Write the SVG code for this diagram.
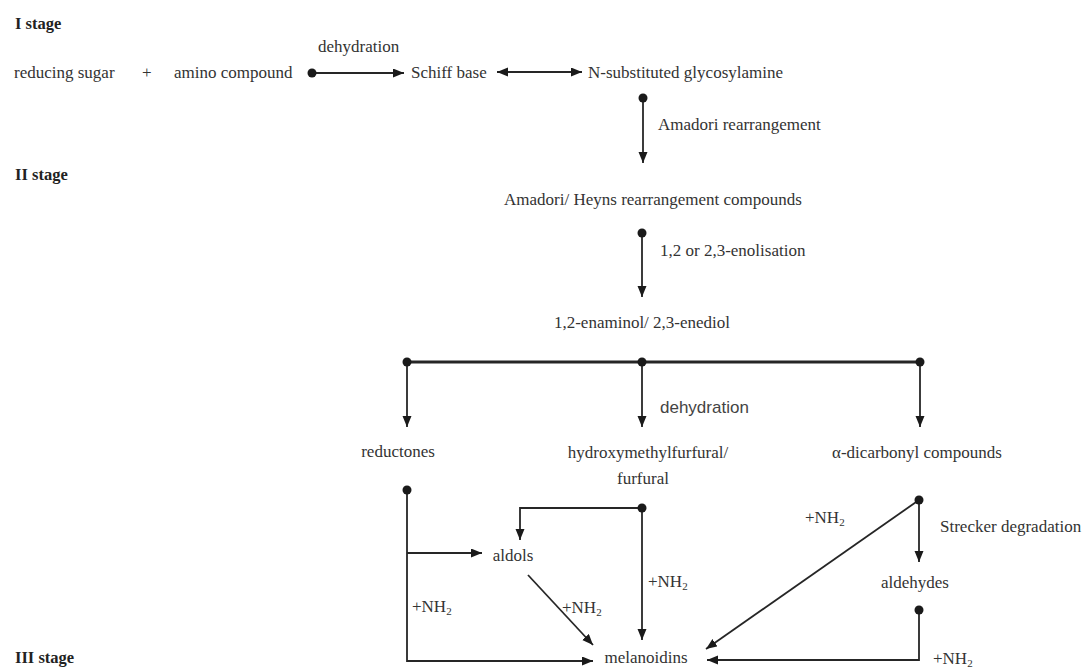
<svg xmlns="http://www.w3.org/2000/svg" width="1088" height="669" viewBox="0 0 1088 669">
<style>
text{font-family:"Liberation Serif","Times New Roman",serif;font-size:17px;fill:#333}
.st{font-weight:bold;font-size:16.5px;fill:#222}
.sans{font-family:"Liberation Sans",Arial,sans-serif;font-size:17px;fill:#444}
.c{text-anchor:middle}
.ln{stroke:#262626;stroke-width:1.8;fill:none}
.bar{stroke:#262626;stroke-width:3;fill:none}
.ar{marker-end:url(#ah)}
.dt{fill:#1a1a1a}
.sub{font-size:11px}
</style>
<defs>
<marker id="ah" markerUnits="userSpaceOnUse" markerWidth="12" markerHeight="10" refX="11" refY="4.5" orient="auto-start-reverse" viewBox="0 0 12 10">
<path d="M0,0 L11,4.5 L0,9 z" fill="#1a1a1a"/>
</marker>
</defs>
<rect width="1088" height="669" fill="#fff"/>
<g id="stages">
<text class="st" x="15" y="29">I stage</text>
<text class="st" x="15" y="180">II stage</text>
<text class="st" x="15" y="663">III stage</text>
</g>
<g id="connectors">
<line class="ln ar" x1="312" y1="73" x2="404" y2="73"/>
<line class="ln ar" x1="497" y1="72" x2="582" y2="72" style="marker-start:url(#ah)"/>
<line class="ln ar" x1="643" y1="98" x2="643" y2="163"/>
<line class="ln ar" x1="642" y1="233" x2="642" y2="297"/>
<line class="bar" x1="407" y1="362" x2="920" y2="362"/>
<line class="ln ar" x1="407" y1="362" x2="407" y2="427"/>
<line class="ln ar" x1="642" y1="362" x2="642" y2="427"/>
<line class="ln ar" x1="920" y1="362" x2="920" y2="427"/>
<polyline class="ln ar" points="407,490 407,661 593,661"/>
<line class="ln ar" x1="407" y1="553" x2="482" y2="553"/>
<polyline class="ln ar" points="642,508 520,508 520,540"/>
<line class="ln ar" x1="642" y1="508" x2="642" y2="640"/>
<line class="ln ar" x1="528" y1="575" x2="593" y2="645"/>
<line class="ln ar" x1="919" y1="500" x2="919" y2="562"/>
<line class="ln ar" x1="919" y1="500" x2="706" y2="649"/>
<polyline class="ln ar" points="919,610 919,660 707,660"/>
<circle class="dt" cx="312" cy="73" r="4.5"/>
<circle class="dt" cx="643" cy="98" r="4.5"/>
<circle class="dt" cx="642" cy="233" r="4.5"/>
<circle class="dt" cx="407" cy="362" r="4.5"/>
<circle class="dt" cx="642" cy="362" r="4.5"/>
<circle class="dt" cx="920" cy="362" r="4.5"/>
<circle class="dt" cx="407" cy="490" r="4.5"/>
<circle class="dt" cx="642" cy="508" r="4.5"/>
<circle class="dt" cx="919" cy="500" r="4.5"/>
<circle class="dt" cx="919" cy="610" r="4.5"/>
</g>
<g id="labels">
<text x="318" y="52">dehydration</text>
<text x="658" y="130">Amadori rearrangement</text>
<text x="660" y="256">1,2 or 2,3-enolisation</text>
<text class="sans" x="660" y="413">dehydration</text>
<text x="940" y="532">Strecker degradation</text>
<text x="412" y="612">+NH<tspan class="sub" dy="3">2</tspan></text>
<text x="562" y="613">+NH<tspan class="sub" dy="3">2</tspan></text>
<text x="648" y="587">+NH<tspan class="sub" dy="3">2</tspan></text>
<text x="805" y="523">+NH<tspan class="sub" dy="3">2</tspan></text>
<text x="933" y="664">+NH<tspan class="sub" dy="3">2</tspan></text>
</g>
<g id="n-reducing-sugar"><text x="14" y="78">reducing sugar</text></g>
<g id="n-plus"><text x="142" y="78">+</text></g>
<g id="n-amino"><text x="174" y="78">amino compound</text></g>
<g id="n-schiff"><text x="411" y="78">Schiff base</text></g>
<g id="n-glycosylamine"><text x="588" y="78">N-substituted glycosylamine</text></g>
<g id="n-amadori"><text class="c" x="653" y="205">Amadori/ Heyns rearrangement compounds</text></g>
<g id="n-enaminol"><text class="c" x="642" y="328">1,2-enaminol/ 2,3-enediol</text></g>
<g id="n-reductones"><text class="c" x="398" y="457">reductones</text></g>
<g id="n-hmf"><text class="c" x="648" y="458">hydroxymethylfurfural/</text><text class="c" x="643" y="484">furfural</text></g>
<g id="n-dicarbonyl"><text class="c" x="917" y="458">α-dicarbonyl compounds</text></g>
<g id="n-aldols"><text class="c" x="513" y="561">aldols</text></g>
<g id="n-aldehydes"><text class="c" x="915" y="588">aldehydes</text></g>
<g id="n-melanoidins"><text class="c" x="646" y="663">melanoidins</text></g>
</svg>
